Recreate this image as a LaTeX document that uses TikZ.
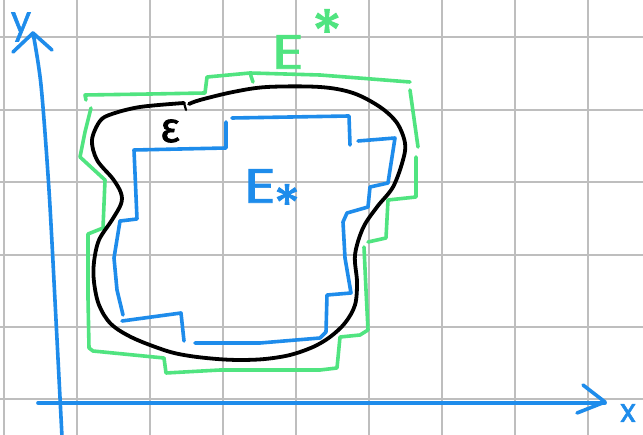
\documentclass[tikz,border=0pt]{standalone}
\usepackage{fontspec}
\newfontfamily\handfont[FakeBold=1.5]{Poppins}
\newfontfamily\greekfont[FakeBold=1.5]{Fira Sans}
\definecolor{blueink}{RGB}{30,140,235}
\definecolor{greenink}{RGB}{80,228,128}
\definecolor{gridgray}{RGB}{190,190,190}
\tikzset{
  gridline/.style={draw=gridgray,line width=1.8pt},
  pen/.style={line width=3.6pt,line cap=round,line join=round},
  bluepen/.style={pen,draw=blueink},
  greenpen/.style={pen,draw=greenink},
  blackpen/.style={pen,draw=black,line width=3.8pt},
  lbl/.style={inner sep=0pt,xscale=1.3,font=\handfont\fontsize{48}{48}\selectfont},
  starlbl/.style={inner sep=0pt,font=\handfont\fontsize{62}{62}\selectfont},
}
\begin{document}
\begin{tikzpicture}[x=1pt,y=-1pt]
\useasboundingbox (0,0) rectangle (643,435);
\fill[white] (0,0) rectangle (643,435);
% grid
\foreach \gx in {4,77,150,223,296,369,442,515,588}
  \draw[gridline] (\gx,0) -- (\gx,435);
\foreach \gy in {37,110,182,255,327,399}
  \draw[gridline] (0,\gy) -- (643,\gy);
% axes
\draw[bluepen] plot[smooth] coordinates {(62,437) (56,320) (49,190) (41,85) (33,33)};
\draw[bluepen] (13,52) -- (33,33) -- (52,50);
\draw[bluepen] (38,403) -- (320,403) -- (605,403);
\draw[bluepen] (583,385) -- (605,402) -- (577,413);
\node[text=blueink,inner sep=0pt,font=\handfont\fontsize{36}{36}\selectfont] (ylabel) at (21,27) {y};
\node[text=blueink,inner sep=0pt,font=\handfont\fontsize{32}{32}\selectfont] (xlabel) at (628,413) {x};
% outer green E^*
\draw[greenpen] (86,100) -- (85,95) -- (150,94) -- (205,93) -- (207,77) -- (250,73) -- (320,75) -- (410,82);
\draw[greenpen] (250,73) -- (253,82);
\draw[greenpen] (410,90) -- (418,147);
\draw[greenpen] (416,157) -- (416,197) -- (388,200) -- (386,238) -- (368,242);
\draw[greenpen] (364,247) -- (366,290) -- (368,330) -- (360,335) -- (340,337) -- (337,368) -- (320,370)
  -- (220,370) -- (166,373) -- (164,358) -- (93,351) -- (89,348) -- (88,298) -- (88,234) -- (103,228)
  -- (105,180) -- (80,157) -- (85,132) -- (91,108);
% black E
\draw[blackpen] plot[smooth,tension=0.55] coordinates {
  (189,104) (200,100) (233,92) (267,87) (320,87) (353,93) (380,107) (397,123) (405,143)
  (403,160) (393,187) (377,207) (363,228) (355,255) (357,282) (355,305) (345,323) (330,337)
  (313,347) (290,355) (265,359) (240,360) (217,359) (190,356) (167,351) (133,338) (111,324)
  (99,305) (94,282) (94,262) (99,240) (112,220) (121,204) (121,193) (113,179) (97,160)
  (92,140) (100,121) (112,114) (140,107) (184,103)};
\draw[blackpen,line width=2.2pt] (184,103) -- (186,110);
% inner blue E_*
\draw[bluepen] (226,122) -- (226,148) -- (134,150) -- (137,219) -- (120,221) -- (114,258) -- (117,290) -- (123,315);
\draw[bluepen] (122,321) -- (181,313) -- (184,341);
\draw[bluepen] (195,343) -- (260,343) -- (320,338) -- (326,332) -- (327,295) -- (351,293) -- (345,258)
  -- (343,222) -- (347,213) -- (368,207) -- (370,187) -- (388,183) -- (390,170) -- (395,138) -- (358,141);
\draw[bluepen] (350,145) -- (349,116) -- (232,118);
% labels
\node[lbl,text=greenink] (Eupper) at (288,52) {E};
\node[starlbl,text=greenink] (starupper) at (327,32) {*};
\node[inner sep=0pt,font=\greekfont\fontsize{42}{42}\selectfont] (eps) at (170,131) {ε};
\node[lbl,text=blueink] (Elower) at (260,186) {E};
\node[starlbl,text=blueink,font=\handfont\fontsize{54}{54}\selectfont] (starlower) at (287,204) {*};
\end{tikzpicture}
\end{document}
